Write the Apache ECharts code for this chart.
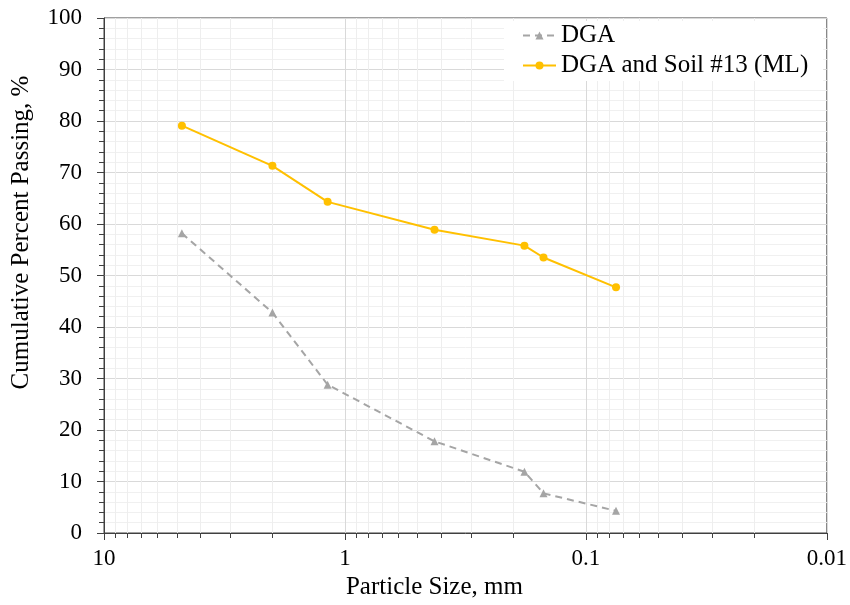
<!DOCTYPE html>
<html>
<head>
<meta charset="utf-8">
<script src="https://cdn.jsdelivr.net/npm/echarts@6/dist/echarts.min.js"></script>
<style>html,body{margin:0;padding:0;background:#fff}#c{width:850px;height:605px}</style>
</head>
<body>
<div id="c"></div>
<script>
// Particle sizes (mm) of sieves
const sizes = [4.75, 2.0, 1.18, 0.425, 0.18, 0.15, 0.075];
// Cumulative percent passing
const dgaValues = [58.2, 42.8, 28.8, 17.8, 11.9, 7.7, 4.3];
const soilValues = [79.1, 71.3, 64.3, 58.9, 55.8, 53.5, 47.7];
const seriesNames = ['DGA', 'DGA and Soil #13 (ML)'];
// Log-axis minor tick values
const xMinorTicks = [9, 8, 7, 6, 5, 4, 3, 2, 0.9, 0.8, 0.7, 0.6, 0.5, 0.4, 0.3, 0.2, 0.09, 0.08, 0.07, 0.06, 0.05, 0.04, 0.03, 0.02];

const FONT = '"Liberation Serif", "Times New Roman", serif';
const chart = echarts.init(document.getElementById('c'), null, {renderer: 'canvas'});
chart.setOption({
  animation: false,
  backgroundColor: '#fff',
  textStyle: {fontFamily: FONT, color: '#000'},
  grid: {left: 104, right: 23, top: 18, bottom: 70, show: true, borderColor: '#404040', borderWidth: 1, backgroundColor: 'transparent'},
  legend: {
    data: seriesNames,
    orient: 'vertical',
    left: 504, top: 21,
    padding: [2, 15, 3, 18],
    itemGap: 5,
    itemWidth: 33, itemHeight: 10,
    backgroundColor: '#fff',
    textStyle: {fontFamily: FONT, fontSize: 25, color: '#000'}
  },
  xAxis: {
    type: 'log', logBase: 10, inverse: true, min: 0.01, max: 10,
    name: 'Particle Size, mm', nameLocation: 'middle', nameGap: 42,
    nameTextStyle: {fontFamily: FONT, fontSize: 25, color: '#000', padding: [0, 62, 0, 0]},
    axisLine: {lineStyle: {color: '#404040', width: 1}},
    axisTick: {show: true, length: 7, lineStyle: {color: '#404040'}},
    axisLabel: {fontFamily: FONT, fontSize: 23, color: '#000', margin: 14,
      formatter: function (v) { return String(Math.round(v * 1000) / 1000); }},
    splitLine: {show: true, lineStyle: {color: '#d9d9d9', width: 1}}
  },
  yAxis: {
    type: 'value', min: 0, max: 100, interval: 10,
    name: 'Cumulative Percent Passing, %', nameLocation: 'middle', nameGap: 70,
    nameTextStyle: {fontFamily: FONT, fontSize: 25, color: '#000', padding: [0, 0, 0, 86]},
    axisLine: {show: true, lineStyle: {color: '#404040', width: 1}},
    axisTick: {show: true, length: 7, lineStyle: {color: '#404040'}},
    minorTick: {show: true, splitNumber: 5, length: 5, lineStyle: {color: '#404040'}},
    axisLabel: {fontFamily: FONT, fontSize: 23, color: '#000', margin: 22},
    splitLine: {show: true, lineStyle: {color: '#d9d9d9', width: 1}},
    minorSplitLine: {show: true, lineStyle: {color: '#f0f0f0', width: 1}}
  },
  series: [
    {
      type: 'custom', name: 'minor', z: 1, silent: true, clip: false,
      data: xMinorTicks.map(v => [v, 0]),
      encode: {x: 0, y: 1},
      renderItem: function (params, api) {
        const x = Math.round(api.coord([api.value(0), 0])[0]) + 0.5;
        const cs = params.coordSys;
        const b = cs.y + cs.height;
        return {type: 'group', children: [
          {type: 'line', shape: {x1: x, y1: cs.y, x2: x, y2: b}, style: {stroke: '#eeeeee', lineWidth: 1}},
          {type: 'line', shape: {x1: x, y1: b, x2: x, y2: b + 5}, style: {stroke: '#404040', lineWidth: 1}}
        ]};
      }
    },
    {
      name: seriesNames[0], type: 'line', z: 3,
      data: sizes.map((s, i) => [s, dgaValues[i]]),
      symbol: 'triangle', symbolSize: 8,
      itemStyle: {color: '#a5a5a5'},
      lineStyle: {color: '#a5a5a5', width: 2, type: [7, 5]}
    },
    {
      name: seriesNames[1], type: 'line', z: 4,
      data: sizes.map((s, i) => [s, soilValues[i]]),
      symbol: 'circle', symbolSize: 8,
      itemStyle: {color: '#ffc000'},
      lineStyle: {color: '#ffc000', width: 2}
    }
  ]
});
</script>
</body>
</html>
